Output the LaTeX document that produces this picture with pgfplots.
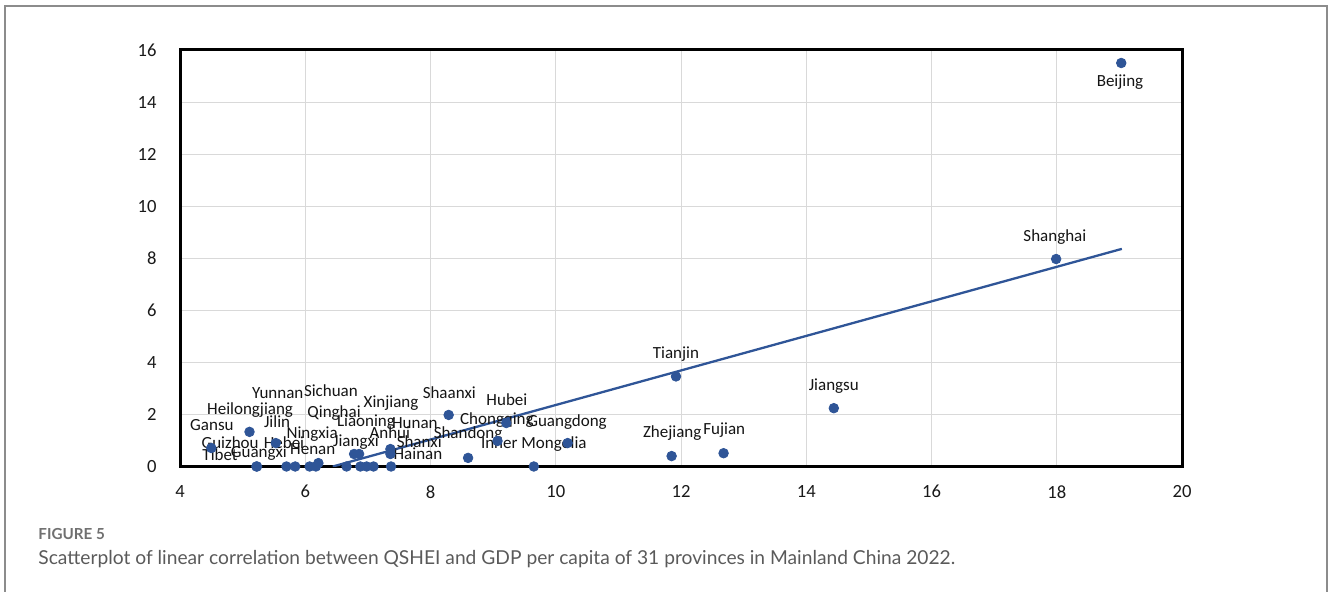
\documentclass[border=0pt]{standalone}
\usepackage{fontspec}
\setmainfont{Carlito}
\newfontfamily\capfont{Lato}
\usepackage{pgfplots}
\usepackage{pgfplotstable}
\pgfplotsset{compat=1.18}

\definecolor{ptblue}{HTML}{2F5597}
\definecolor{gridgray}{HTML}{D9D9D9}
\definecolor{framegray}{HTML}{8C8C8C}
\definecolor{capgray}{HTML}{5A5A5A}
\definecolor{figgray}{HTML}{707070}

% GDP per capita (10,000 yuan) vs. QSHEI, 31 provinces, 2022
\pgfplotstableread{
x      y
19.03  15.50
17.99  7.97
14.44  2.24
12.68  0.51
11.92  3.46
11.85  0.40
10.19  0.90
9.65   0.00
9.21   1.67
9.07   0.98
8.60   0.33
8.29   1.98
7.36   0.67
7.36   0.48
7.37   0.00
7.09   0.00
6.98   0.00
6.88   0.00
6.86   0.48
6.78   0.48
6.66   0.00
6.21   0.13
6.17   0.00
6.07   0.00
5.84   0.00
5.70   0.00
5.53   0.90
5.23   0.00
5.22   0.00
5.11   1.33
4.50   0.71
}\provdata

% linear trend line (clipped at QSHEI = 0)
\pgfplotstableread{
x      y
6.44   0.00
19.04  8.36
}\trenddata

\begin{document}
\begin{tikzpicture}
\path[use as bounding box] (0pt,0pt) rectangle (664pt,296pt);
\draw[framegray, line width=1pt] (2.25pt,0pt) -- (2.25pt,293.15pt) -- (663.3pt,293.15pt) -- (663.3pt,0pt);

\begin{axis}[
  at={(90pt,62.75pt)}, anchor=south west,
  scale only axis, width=501pt, height=208.25pt,
  xmin=4, xmax=20, ymin=0, ymax=16,
  xtick={4,6,...,20}, ytick={0,2,...,16},
  grid=major,
  major grid style={gridgray, line width=0.5pt},
  axis line style={black, line width=1.5pt},
  tick style={draw=none},
  /pgf/number format/assume math mode=true,
  ticklabel style={font=\fontsize{9.3}{11}\selectfont, text=black!90, inner sep=0pt},
  yticklabel style={anchor=east, xshift=-11.5pt},
  xticklabel style={anchor=north, yshift=-9.25pt},
]
\addplot[ptblue, line width=1.15pt] table {\trenddata};
\addplot[only marks, mark=*, mark size=2.4pt, ptblue, mark options={draw=ptblue, fill=ptblue}] table {\provdata};

\begin{scope}[every node/.style={font=\fontsize{8.5}{10}\selectfont, text=black!92, inner sep=0pt}]
\node at (axis cs:19.01,14.77) {Beijing};
\node at (axis cs:17.97,8.82) {Shanghai};
\node at (axis cs:11.92,4.32) {Tianjin};
\node at (axis cs:14.44,3.09) {Jiangsu};
\node at (axis cs:11.86,1.29) {Zhejiang};
\node at (axis cs:12.69,1.40) {Fujian};
\node at (axis cs:10.18,1.71) {Guangdong};
\node at (axis cs:9.65,0.86) {Inner Mongolia};
\node at (axis cs:9.22,2.55) {Hubei};
\node at (axis cs:9.06,1.79) {Chongqing};
\node at (axis cs:8.60,1.25) {Shandong};
\node at (axis cs:8.30,2.82) {Shaanxi};
\node at (axis cs:7.75,1.67) {Hunan};
\node at (axis cs:7.35,1.29) {Anhui};
\node at (axis cs:7.82,0.94) {Shanxi};
\node at (axis cs:7.80,0.48) {Hainan};
\node at (axis cs:7.37,2.44) {Xinjiang};
\node at (axis cs:6.97,1.71) {Liaoning};
\node at (axis cs:6.81,0.94) {Jiangxi};
\node at (axis cs:6.46,2.06) {Qinghai};
\node at (axis cs:6.41,2.90) {Sichuan};
\node at (axis cs:6.11,1.25) {Ningxia};
\node at (axis cs:6.12,0.67) {Henan};
\node at (axis cs:5.56,2.82) {Yunnan};
\node at (axis cs:5.55,1.71) {Jilin};
\node at (axis cs:5.66,0.90) {Hebei};
\node at (axis cs:5.12,2.17) {Heilongjiang};
\node at (axis cs:4.51,1.59) {Gansu};
\node at (axis cs:4.80,0.90) {Guizhou};
\node at (axis cs:4.64,0.44) {Tibet};
\node at (axis cs:5.26,0.52) {Guangxi};
\end{scope}
\end{axis}

\node[anchor=west, inner sep=0pt, font=\capfont\bfseries\fontsize{7.6}{9}\selectfont, text=figgray] at (19pt,28.8pt) {FIGURE 5};
\node[anchor=west, inner sep=0pt, font=\capfont\fontsize{9.6}{11}\selectfont, text=capgray] at (19pt,16.5pt) {Scatterplot of linear correlation between QSHEI and GDP per capita of 31 provinces in Mainland China 2022.};
\end{tikzpicture}
\end{document}
